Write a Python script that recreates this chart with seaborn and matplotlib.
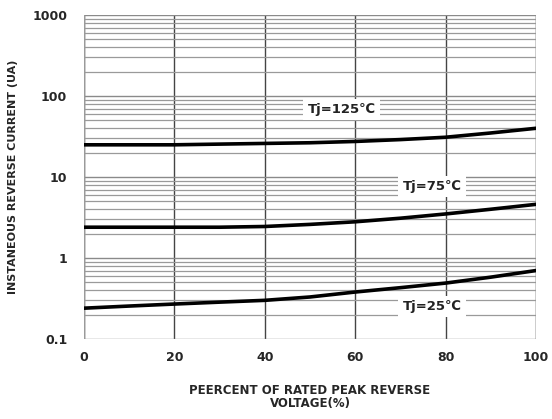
import numpy as np
import pandas as pd
import seaborn as sns
import matplotlib
matplotlib.use("Agg")
import matplotlib.pyplot as plt
from matplotlib.ticker import FixedLocator, NullFormatter, LogLocator

# Data
voltage_pct = [0, 10, 20, 30, 40, 50, 60, 70, 80, 90, 100]
i_125 = [25, 25, 25, 25.5, 26, 26.5, 27.5, 29, 31, 35, 40]
i_75 = [2.4, 2.4, 2.4, 2.4, 2.45, 2.6, 2.8, 3.1, 3.5, 4.0, 4.6]
i_25 = [0.24, 0.255, 0.27, 0.285, 0.30, 0.33, 0.38, 0.43, 0.49, 0.58, 0.70]
labels = ["Tj=125℃", "Tj=75℃", "Tj=25℃"]
label_pos_x = [57, 77, 77]
label_pos_y = [68, 7.6, 0.25]
x_ticks = [0, 20, 40, 60, 80, 100]
y_ticks = [0.1, 1, 10, 100, 1000]
y_tick_labels = ["0.1", "1", "10", "100", "1000"]

df = pd.DataFrame({
    "x": voltage_pct * 3,
    "y": i_125 + i_75 + i_25,
    "series": [labels[0]] * len(voltage_pct) + [labels[1]] * len(voltage_pct) + [labels[2]] * len(voltage_pct),
})

sns.set_style("white")
plt.rcParams['font.family'] = ['DejaVu Sans', 'Noto Sans CJK SC']

fig = plt.figure(figsize=(5.52, 4.19), dpi=100)
ax = fig.add_axes([0.152, 0.191, 0.819, 0.773])

sns.lineplot(data=df, x="x", y="y", units="series", estimator=None,
             color="black", linewidth=2.6, ax=ax, legend=False, zorder=3)

ax.set_yscale("log")
ax.set_xlim(0, 100)
ax.set_ylim(0.1, 1000)
ax.yaxis.set_major_locator(FixedLocator(y_ticks))
ax.set_yticklabels(y_tick_labels)
ax.yaxis.set_minor_locator(LogLocator(base=10, subs=np.arange(2, 10)))
ax.yaxis.set_minor_formatter(NullFormatter())
ax.set_xticks(x_ticks)
ax.set_xticklabels([str(v) for v in x_ticks])

ax.grid(True, which="major", axis="y", color="#8a8a8a", linewidth=1.0)
ax.grid(True, which="minor", axis="y", color="#9a9a9a", linewidth=0.9)
ax.grid(True, which="major", axis="x", color="#444444", linewidth=1.0)
for s in ["top", "right", "bottom", "left"]:
    ax.spines[s].set_visible(False)
ax.axvline(0, color="#9a9a9a", linewidth=1.0)
ax.axvline(100, color="#9a9a9a", linewidth=1.0)

ax.tick_params(axis="both", which="major", length=4, color="#aaaaaa",
               labelsize=9)
ax.tick_params(axis="y", which="major", pad=8)
ax.tick_params(axis="x", which="major", pad=5)
ax.tick_params(axis="y", which="minor", length=0)
for t in ax.get_xticklabels() + ax.get_yticklabels():
    t.set_fontweight("bold")

for txt, lx, ly in zip(labels, label_pos_x, label_pos_y):
    ax.text(lx, ly, txt, ha="center", va="center", fontsize=9.5,
            fontweight="bold", color="#222222", zorder=4,
            bbox=dict(facecolor="white", edgecolor="none", pad=3))

ax.set_xlabel("PEERCENT OF RATED PEAK REVERSE\nVOLTAGE(%)", fontsize=8.5,
              fontweight="bold", labelpad=14, linespacing=1.0)
ax.set_ylabel("INSTANEOUS REVERSE CURRENT (UA)", fontsize=8,
              fontweight="bold")
ax.yaxis.set_label_coords(-0.145, 0.5)

fig.savefig("out.png", dpi=100)
